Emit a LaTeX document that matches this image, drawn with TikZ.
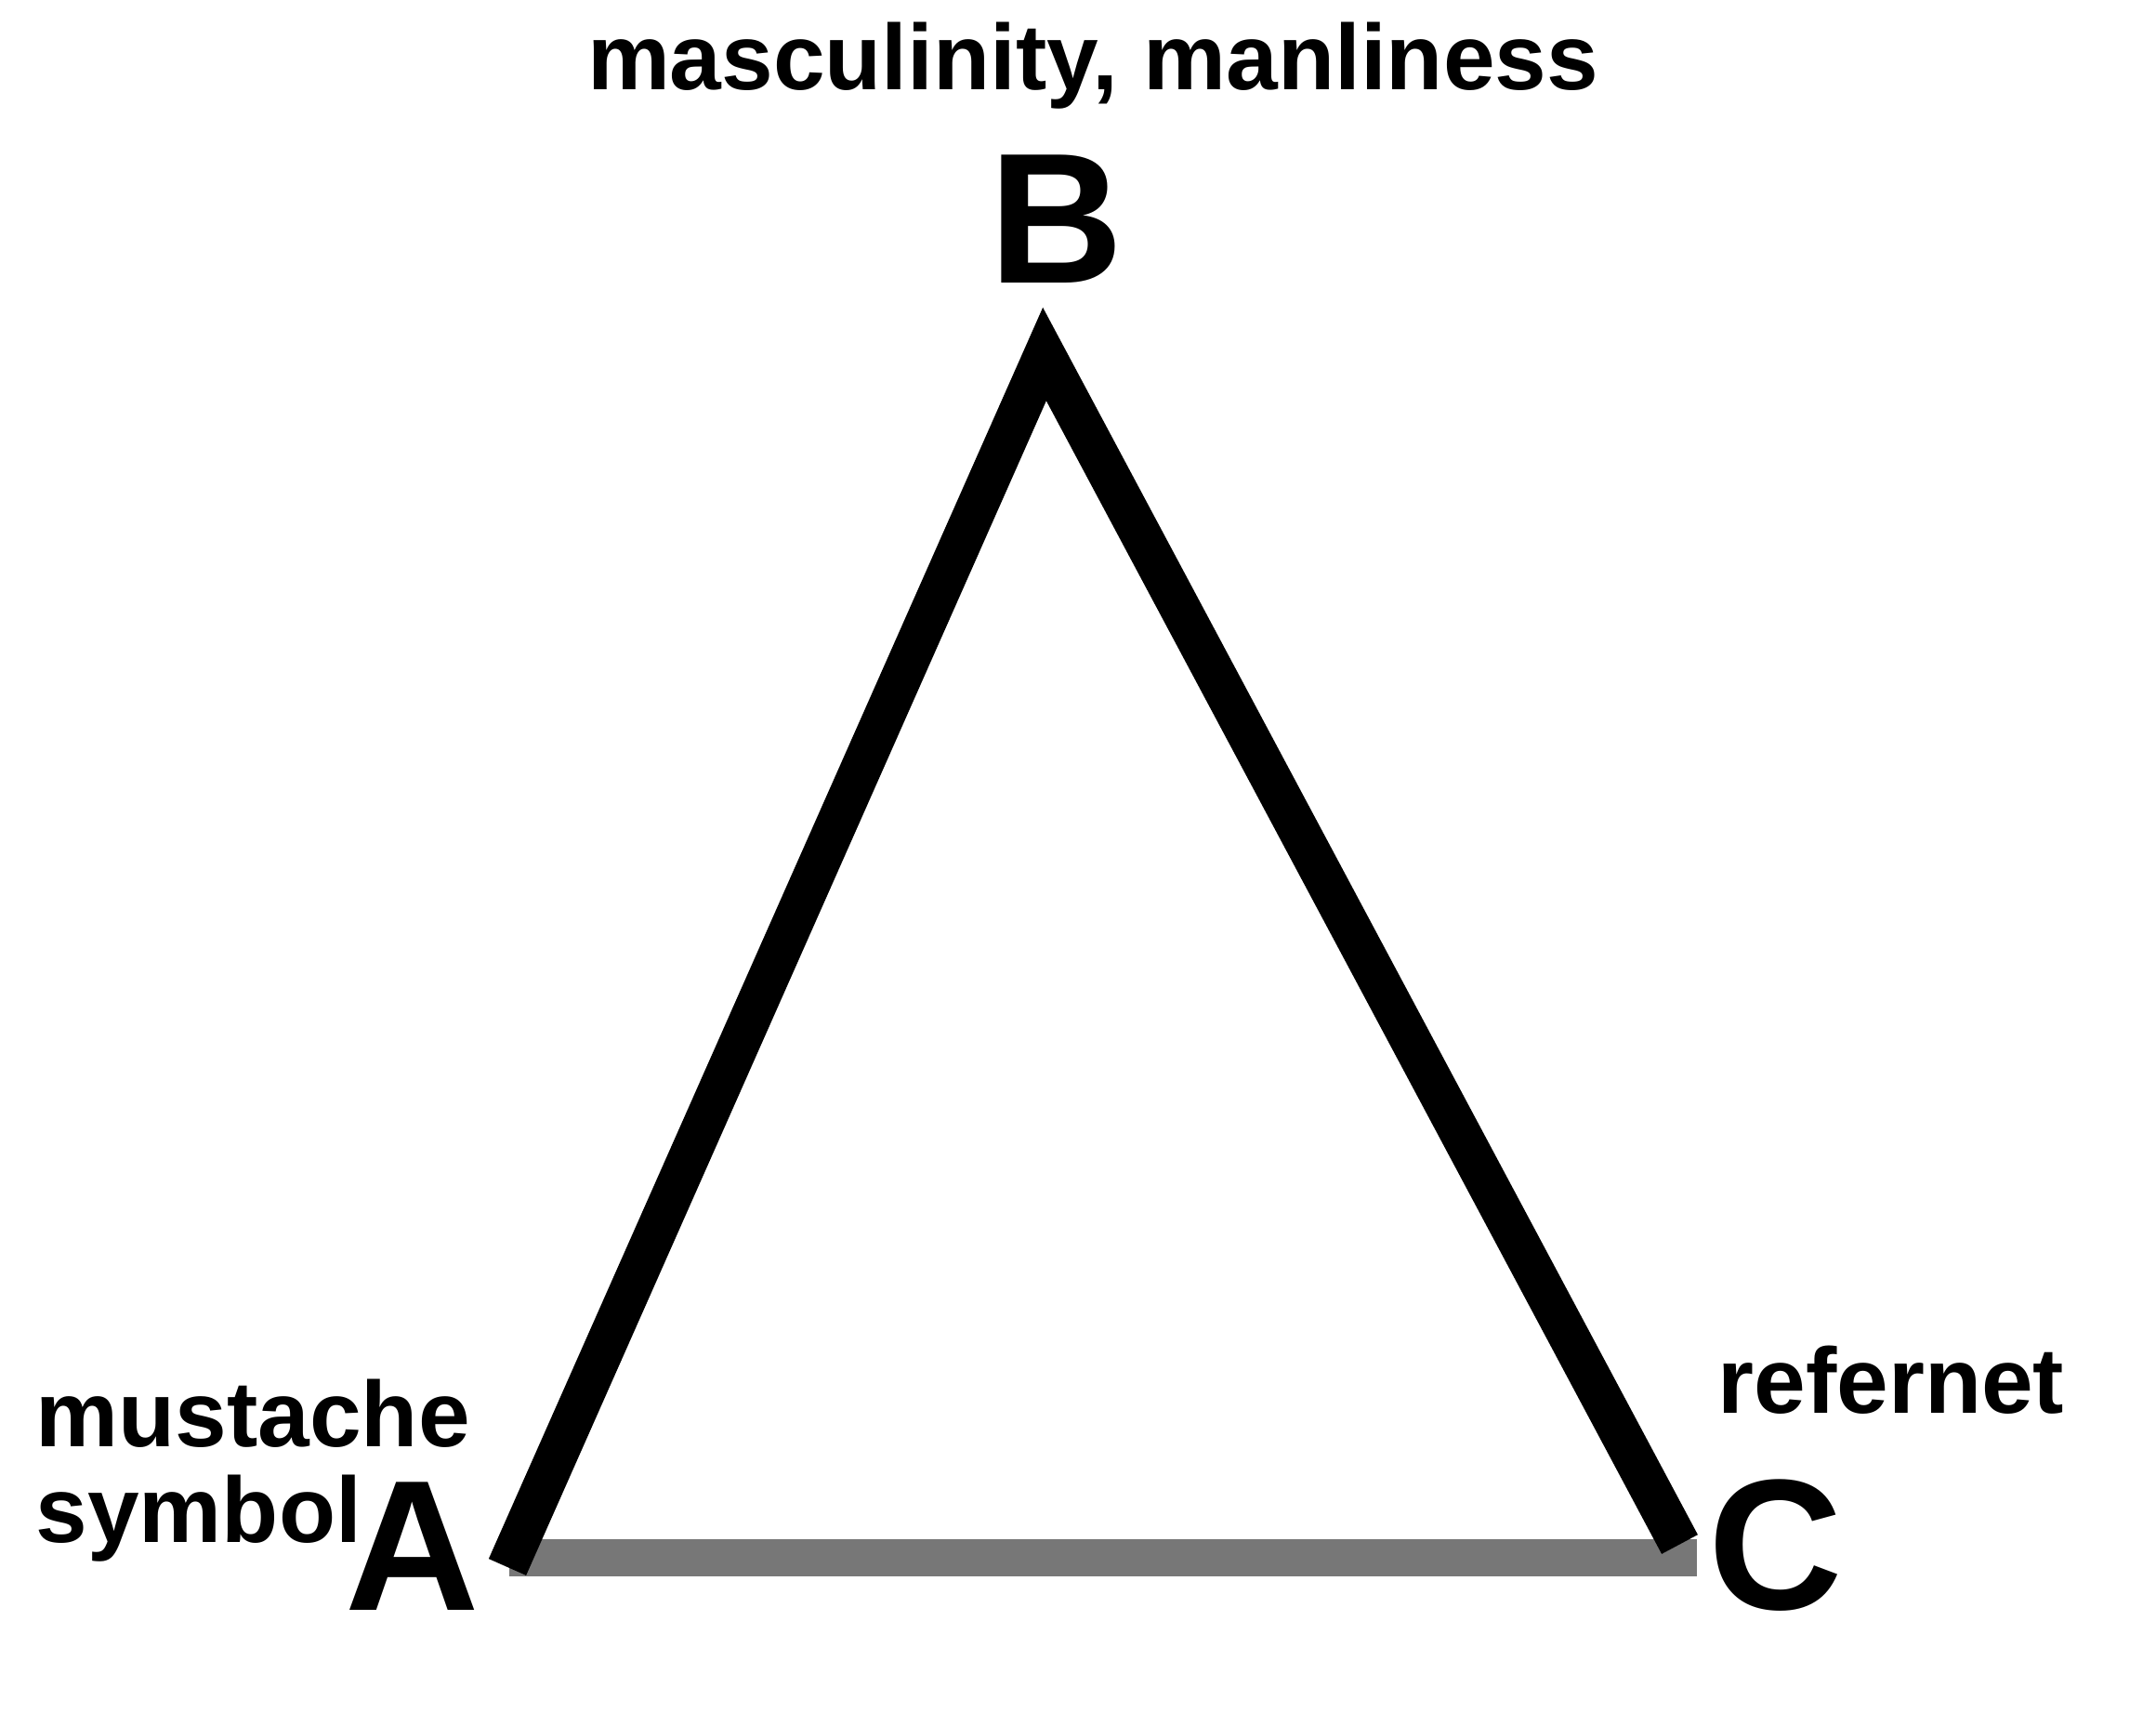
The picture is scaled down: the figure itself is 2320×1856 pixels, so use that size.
\documentclass[tikz,border=0pt]{standalone}
\usepackage{fontspec}
\setmainfont{Liberation Sans}
\usepackage{tikz}
\tikzset{
  corner letter/.style={inner sep=0pt,font=\fontsize{56.9}{56.9}\selectfont\bfseries},
  corner word/.style={inner sep=0pt,font=\fontsize{28.45}{28.45}\selectfont\bfseries},
  triangle side/.style={draw,line width=0.44cm,line join=miter},
  base side/.style={draw=baseside,line width=0.40cm},
}
\definecolor{baseside}{RGB}{119,119,119}

\begin{document}
\begin{tikzpicture}[
  x=0.01cm,y=-0.01cm,
]
\path[use as bounding box,fill=white] (0,0) rectangle (2320,1856);

\coordinate (a) at (546,1686);
\coordinate (b) at (1124,381);
\coordinate (c) at (1807.5,1661.5);
\coordinate (base-west) at (548,1676);
\coordinate (base-east) at (1826,1676);

\path[base side] (base-west) -- (base-east);
\path[triangle side] (a) -- (b) -- (c);

\node[corner letter,anchor=base] (B) at (1137,304) {B};
\node[corner letter,anchor=base] (A) at (444,1732) {A};
\node[corner letter,anchor=base] (C) at (1911,1731) {C};

\node[corner word,anchor=base] (B-word) at (1176,96) {masculinity, manliness};
\node[corner word,anchor=base west] (A-word-a) at (38,1556) {mustache};
\node[corner word,anchor=base west] (A-word-b) at (38,1659) {symbol};
\node[corner word,anchor=base west] (C-word) at (1848,1520) {refernet};
\end{tikzpicture}
\end{document}
